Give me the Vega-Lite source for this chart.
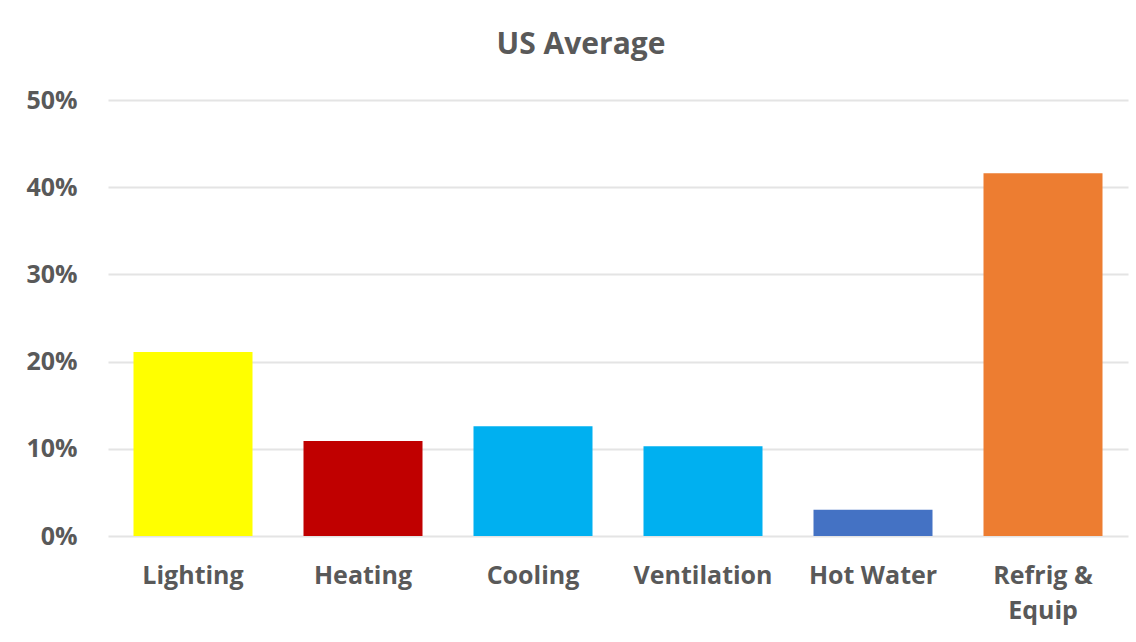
{
  "$schema": "https://vega.github.io/schema/vega-lite/v6.json",
  "autosize": {"type": "none"},
  "width": 1020,
  "height": 436,
  "padding": {"left": 108, "top": 100, "right": 8, "bottom": 106},
  "background": "white",
  "title": {
    "text": "US Average",
    "font": "Open Sans",
    "fontSize": 30,
    "fontWeight": "bold",
    "color": "#595959",
    "anchor": "middle",
    "dx": -37,
    "offset": 28
  },
  "data": {
    "values": [
      {"category": "Lighting", "share": 0.211, "color": "#FFFF00"},
      {"category": "Heating", "share": 0.109, "color": "#C00000"},
      {"category": "Cooling", "share": 0.126, "color": "#00B0F0"},
      {"category": "Ventilation", "share": 0.103, "color": "#00B0F0"},
      {"category": "Hot Water", "share": 0.030, "color": "#4472C4"},
      {"category": "Refrig & Equip", "share": 0.416, "color": "#ED7D31"}
    ]
  },
  "mark": {"type": "bar"},
  "encoding": {
    "x": {
      "field": "category",
      "type": "nominal",
      "sort": null,
      "title": null,
      "scale": {"paddingInner": 0.3, "paddingOuter": 0.15},
      "axis": {
        "labelAngle": 0,
        "domain": false,
        "ticks": false,
        "labelPadding": 27,
        "labelFont": "Open Sans",
        "labelFontSize": 25,
        "labelFontWeight": "bold",
        "labelColor": "#595959",
        "labelLineHeight": 35,
        "labelExpr": "datum.label == 'Refrig & Equip' ? ['Refrig &', 'Equip'] : datum.label"
      }
    },
    "y": {
      "field": "share",
      "type": "quantitative",
      "title": null,
      "scale": {"domain": [0, 0.5]},
      "axis": {
        "format": ".0%",
        "values": [0, 0.1, 0.2, 0.3, 0.4, 0.5],
        "domain": false,
        "ticks": false,
        "labelPadding": 31,
        "labelFont": "Open Sans",
        "labelFontSize": 25,
        "labelFontWeight": "bold",
        "labelColor": "#595959",
        "gridColor": "#e4e4e4",
        "gridWidth": 2
      }
    },
    "color": {"field": "color", "type": "nominal", "scale": null, "legend": null}
  },
  "config": {"view": {"stroke": null}}
}
